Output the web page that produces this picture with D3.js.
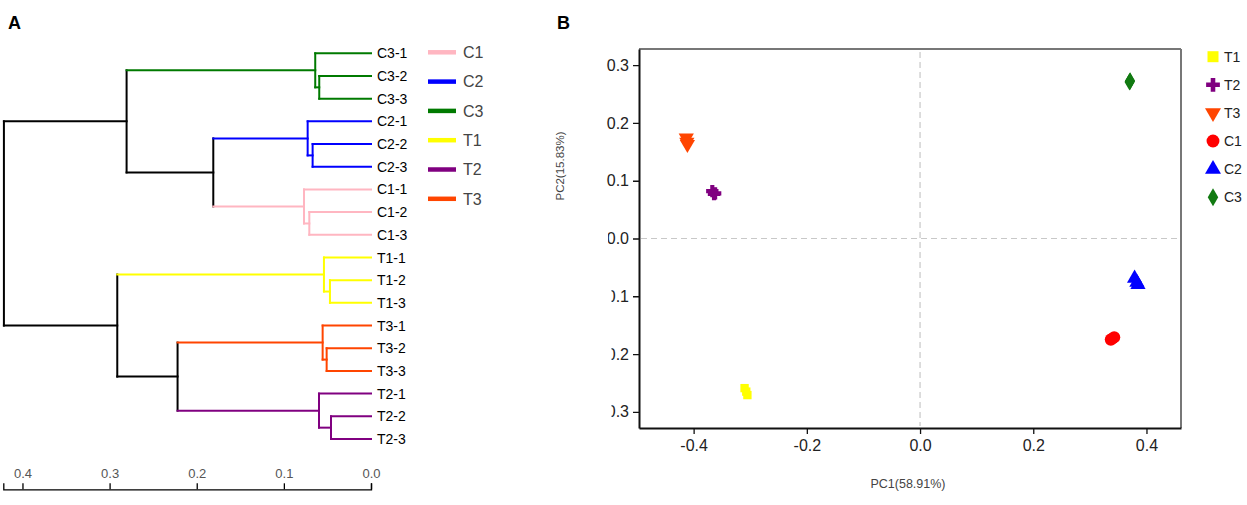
<!DOCTYPE html>
<html>
<head>
<meta charset="utf-8">
<script src="https://cdn.jsdelivr.net/npm/d3@7"></script>
<style>
  html, body { margin: 0; padding: 0; background: #fff; }
  svg { display: block; font-family: "Liberation Sans", Arial, sans-serif; }
</style>
</head>
<body>
<svg id="chart" width="1247" height="505"></svg>
<script>
// ---------- Panel A data: hierarchical clustering ----------
const leaves = ["C3-1","C3-2","C3-3","C2-1","C2-2","C2-3","C1-1","C1-2","C1-3",
                "T1-1","T1-2","T1-3","T3-1","T3-2","T3-3","T2-1","T2-2","T2-3"];
// [childA, childB, mergeHeight, nodeName]
const merges = [
  ["C3-2","C3-3",0.0594,"C3a"], ["C3-1","C3a",0.064,"C3g"],
  ["C2-2","C2-3",0.067,"C2a"],  ["C2-1","C2a",0.0727,"C2g"],
  ["C1-2","C1-3",0.0708,"C1a"], ["C1-1","C1a",0.0769,"C1g"],
  ["C2g","C1g",0.181,"n1"],     ["C3g","n1",0.2805,"n2"],
  ["T1-2","T1-3",0.0471,"T1a"], ["T1-1","T1a",0.054,"T1g"],
  ["T3-2","T3-3",0.0509,"T3a"], ["T3-1","T3a",0.0555,"T3g"],
  ["T2-2","T2-3",0.0459,"T2a"], ["T2-1","T2a",0.0597,"T2g"],
  ["T3g","T2g",0.222,"n3"],     ["T1g","n3",0.2912,"n4"],
  ["n2","n4",0.4213,"root"]
];
const groupNames  = ["C1","C2","C3","T1","T2","T3"];
const groupColors = ["#FFB6C1","#0000FF","#007A00","#FFFF00","#800080","#FF4500"];
const distTicks = [0.4, 0.3, 0.2, 0.1, 0.0];

// ---------- Panel B data: PCA scores ----------
const pcaGroups = ["T1","T2","T3","C1","C2","C3"];
const pcaColors = ["#FFFF00","#800080","#FF4500","#FF0000","#0000FF","#117A11"];
const pc1 = {
  T1: [-0.310, -0.307, -0.305],
  T2: [-0.367, -0.364, -0.362],
  T3: [-0.413, -0.412, -0.411],
  C1: [0.337, 0.340, 0.343],
  C2: [0.379, 0.383, 0.385],
  C3: [0.371, 0.370, 0.371]
};
const pc2 = {
  T1: [-0.259, -0.265, -0.271],
  T2: [0.082, 0.077, 0.078],
  T3: [0.174, 0.167, 0.163],
  C1: [-0.175, -0.173, -0.171],
  C2: [-0.069, -0.076, -0.080],
  C3: [0.273, 0.271, 0.272]
};
const pcTicks = [-0.4, -0.2, 0.0, 0.2, 0.4];
const pc2Ticks = [-0.3, -0.2, -0.1, 0.0, 0.1, 0.2, 0.3];

const svg = d3.select("#chart");

// Panel letters
svg.append("text").attr("x", 8).attr("y", 29).attr("font-size", 18).attr("font-weight", "bold").text("A");
svg.append("text").attr("x", 557).attr("y", 29).attr("font-size", 18).attr("font-weight", "bold").text("B");

// ================= Panel A =================
const colorOf = name => {
  const i = groupNames.indexOf(name.slice(0, 2));
  return (i >= 0) ? groupColors[i] : "#000";
};
const dx = d3.scaleLinear().domain([0.422, 0]).range([3.3, 371]);
const dy = d3.scalePoint().domain(leaves).range([53.3, 439]);

const nodes = {};
leaves.forEach(l => nodes[l] = { name: l, h: 0, y: dy(l) });
merges.forEach(([a, b, h, n]) => {
  nodes[n] = { name: n, h: h, y: (nodes[a].y + nodes[b].y) / 2, children: [nodes[a], nodes[b]] };
});

const gA = svg.append("g");
const segs = [];
Object.values(nodes).forEach(p => {
  if (!p.children) return;
  const px = dx(p.h);
  segs.push({ x1: px, y1: p.children[0].y, x2: px, y2: p.children[1].y, c: colorOf(p.name) });
  p.children.forEach(ch => {
    segs.push({ x1: px, y1: ch.y, x2: dx(ch.h), y2: ch.y, c: colorOf(ch.name) });
  });
});
gA.selectAll("line.seg").data(segs).join("line")
  .attr("class", "seg")
  .attr("x1", d => d.x1).attr("y1", d => d.y1)
  .attr("x2", d => d.x2).attr("y2", d => d.y2)
  .attr("stroke", d => d.c).attr("stroke-width", 2)
  .attr("stroke-linecap", "square");

gA.selectAll("text.leaf").data(leaves).join("text")
  .attr("class", "leaf")
  .attr("x", dx(0) + 6).attr("y", d => dy(d))
  .attr("dy", "0.36em")
  .attr("font-size", 14).attr("fill", "#000")
  .text(d => d);

// distance axis
const axA = svg.append("g").attr("transform", "translate(0,489.3)")
  .call(d3.axisTop(dx).tickValues(distTicks).tickFormat(d3.format(".1f")).tickSize(6).tickSizeOuter(6));
axA.select(".domain").attr("stroke", "#000").attr("stroke-width", 1.3);
axA.selectAll(".tick line").attr("stroke", "#000").attr("stroke-width", 1.3);
axA.selectAll(".tick text").attr("font-size", 13).attr("fill", "#555").attr("dy", "-0.15em")
  .attr("font-family", "Liberation Sans, Arial, sans-serif");

// legend A
const legA = svg.append("g");
groupNames.forEach((g, i) => {
  const y = 52.3 + i * 29.3;
  legA.append("line").attr("x1", 428).attr("x2", 456).attr("y1", y).attr("y2", y)
    .attr("stroke", groupColors[i]).attr("stroke-width", 4.5);
  legA.append("text").attr("x", 463).attr("y", y).attr("dy", "0.36em")
    .attr("font-size", 16).attr("fill", "#444").text(g);
});

// ================= Panel B =================
const X = d3.scaleLinear().domain([-0.4965, 0.461]).range([639, 1181]);
const Y = d3.scaleLinear().domain([-0.328, 0.328]).range([428, 49]);

const gB = svg.append("g");
gB.append("line").attr("x1", X.range()[0] + 2).attr("x2", X.range()[1] - 3)
  .attr("y1", Y(0)).attr("y2", Y(0))
  .attr("stroke", "#c8c8c8").attr("stroke-width", 1.2).attr("stroke-dasharray", "6,4");
gB.append("line").attr("x1", X(0)).attr("x2", X(0))
  .attr("y1", Y.range()[1] + 3).attr("y2", Y.range()[0] - 2)
  .attr("stroke", "#c8c8c8").attr("stroke-width", 1.2).attr("stroke-dasharray", "6,4");

gB.append("line").attr("x1", 639).attr("x2", 1181).attr("y1", Y.range()[1]).attr("y2", Y.range()[1])
  .attr("stroke", "#777").attr("stroke-width", 2);
gB.append("line").attr("x1", 1181).attr("x2", 1181).attr("y1", Y.range()[1]).attr("y2", Y.range()[0])
  .attr("stroke", "#777").attr("stroke-width", 2);

// x axis
const axX = svg.append("g").attr("transform", `translate(0,${Y.range()[0]})`)
  .call(d3.axisBottom(X).tickValues(pcTicks).tickFormat(d3.format(".1f")).tickSize(6).tickSizeOuter(0));
axX.select(".domain").attr("stroke", "#111").attr("stroke-width", 2);
axX.selectAll(".tick line").attr("stroke", "#111").attr("stroke-width", 1.3);
axX.selectAll(".tick text").attr("font-size", 16).attr("fill", "#222").attr("dy", "0.9em")
  .attr("font-family", "Liberation Sans, Arial, sans-serif")
  .text(d => d3.format(".1f")(d).replace("−", "-"));

// y axis (labels clipped at left as in the original)
const defs = svg.append("defs");
const cp = defs.append("clipPath").attr("id", "yclip");
cp.append("rect").attr("x", 600).attr("y", 40).attr("width", 60).attr("height", 175);
cp.append("rect").attr("x", 608).attr("y", 215).attr("width", 60).attr("height", 47);
cp.append("rect").attr("x", 611.5).attr("y", 262).attr("width", 60).attr("height", 180);
const yOuter = svg.append("g").attr("clip-path", "url(#yclip)");
const axY = yOuter.append("g").attr("transform", `translate(${X.range()[0]},0)`)
  .call(d3.axisLeft(Y).tickValues(pc2Ticks).tickFormat(d3.format(".1f")).tickSize(6).tickSizeOuter(0).tickPadding(4));
axY.select(".domain").attr("stroke", "#111").attr("stroke-width", 2);
axY.selectAll(".tick line").attr("stroke", "#111").attr("stroke-width", 1.3);
axY.selectAll(".tick text").attr("font-size", 16).attr("fill", "#222")
  .attr("font-family", "Liberation Sans, Arial, sans-serif")
  .text(d => d3.format(".1f")(d).replace("−", "-"));

// axis titles
svg.append("text").attr("x", (X.range()[0] + X.range()[1]) / 2 - 2).attr("y", 488)
  .attr("text-anchor", "middle").attr("font-size", 12.5).attr("fill", "#444").text("PC1(58.91%)");
svg.append("text").attr("transform", `translate(564,${166}) rotate(-90)`)
  .attr("text-anchor", "middle").attr("font-size", 11.5).attr("fill", "#444").text("PC2(15.83%)");

// symbols
const symTypes = {
  T1: d3.symbolSquare, T2: d3.symbolCross, T3: d3.symbolTriangle,
  C1: d3.symbolCircle, C2: d3.symbolTriangle, C3: d3.symbolDiamond
};
const symSize = { T1: 70, T2: 85, T3: 100, C1: 115, C2: 100, C3: 85 };
const symRot  = { T3: 180 };

const pts = [];
pcaGroups.forEach((g, gi) => {
  pc1[g].forEach((v, k) => pts.push({ g, x: v, y: pc2[g][k], c: pcaColors[gi] }));
});
gB.selectAll("path.pt").data(pts).join("path")
  .attr("class", "pt")
  .attr("d", d => d3.symbol(symTypes[d.g], symSize[d.g])())
  .attr("transform", d => `translate(${X(d.x)},${Y(d.y)}) rotate(${symRot[d.g] || 0})`)
  .attr("fill", d => d.c);

// legend B
const legB = svg.append("g");
const legSize = { T1: 121, T2: 105, T3: 110, C1: 130, C2: 110, C3: 95 };
pcaGroups.forEach((g, i) => {
  const y = 56.7 + i * 28.1;
  legB.append("path")
    .attr("d", d3.symbol(symTypes[g], legSize[g])())
    .attr("transform", `translate(1213,${y}) rotate(${symRot[g] || 0})`)
    .attr("fill", pcaColors[i]);
  legB.append("text").attr("x", 1224).attr("y", y).attr("dy", "0.36em")
    .attr("font-size", 14).attr("fill", "#222").text(g);
});
</script>
</body>
</html>
